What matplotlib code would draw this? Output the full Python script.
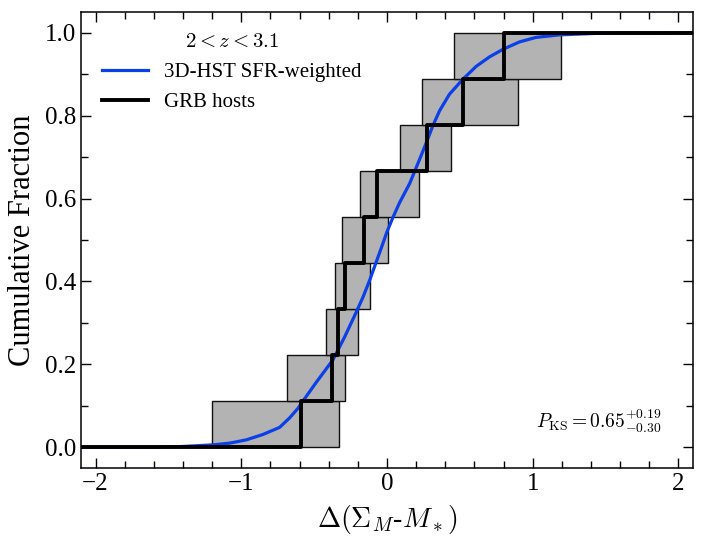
import matplotlib
matplotlib.use("Agg")
import matplotlib.pyplot as plt
from matplotlib.ticker import MultipleLocator

plt.rcParams['font.family'] = ['Liberation Serif', 'DejaVu Serif']
plt.rcParams['mathtext.fontset'] = 'cm'

# GRB host steps (9 hosts)
grb_x = [-0.593, -0.375, -0.337, -0.286, -0.158, -0.067, 0.272, 0.521, 0.802]
n_grb = len(grb_x)

# uncertainty boxes per cumulative level (left / right edges)
box_lo = [-1.203, -0.684, -0.421, -0.357, -0.307, -0.188, 0.086, 0.237, 0.462]
box_hi = [-0.330, -0.286, -0.202, -0.117, 0.006, 0.217, 0.436, 0.901, 1.195]

# 3D-HST SFR-weighted cumulative distribution
hst_x = [-2.1, -1.6, -1.4, -1.19, -1.08, -0.965, -0.851, -0.737, -0.668,
         -0.611, -0.588, -0.485, -0.371, -0.291, -0.211, -0.165, -0.119,
         -0.078, -0.039, -0.001, 0.040, 0.086, 0.155, 0.189, 0.224, 0.270,
         0.315, 0.361, 0.429, 0.521, 0.612, 0.704, 0.795, 0.909, 1.024,
         1.184, 1.46, 2.1]
hst_y = [0.0, 0.0, 0.002, 0.006, 0.010, 0.018, 0.031, 0.048, 0.071,
         0.094, 0.106, 0.157, 0.211, 0.266, 0.326, 0.362, 0.403,
         0.443, 0.481, 0.519, 0.554, 0.590, 0.636, 0.665, 0.695, 0.735,
         0.776, 0.812, 0.852, 0.888, 0.919, 0.942, 0.960, 0.978, 0.989,
         0.995, 0.999, 1.0]

fig = plt.figure(figsize=(7.06, 5.49), dpi=100)
ax = fig.add_axes([0.1147, 0.1475, 0.8669, 0.8305])

levels = [i / n_grb for i in range(n_grb)]
widths = [h - l for l, h in zip(box_lo, box_hi)]
ax.barh(levels, widths, left=box_lo, height=1 / n_grb, align='edge',
        color='#b3b3b3', edgecolor='#111111', linewidth=1.0, zorder=1)

ax.plot(hst_x, hst_y, color='#0b3fe8', lw=2.3, zorder=2,
        solid_joinstyle='round', label='3D-HST SFR-weighted')

step_x = [-2.1] + grb_x + [2.1]
step_y = [0.0] + [(i + 1) / n_grb for i in range(n_grb)] + [1.0]
ax.step(step_x, step_y, where='post', color='black', lw=2.8, zorder=3,
        label='GRB hosts')

ax.set_xlim(-2.1, 2.1)
ax.set_ylim(-0.05, 1.05)
ax.xaxis.set_major_locator(MultipleLocator(1))
ax.xaxis.set_minor_locator(MultipleLocator(0.2))
ax.yaxis.set_major_locator(MultipleLocator(0.2))
ax.yaxis.set_minor_locator(MultipleLocator(0.1))
ax.tick_params(which='both', direction='in', top=True, right=True, width=1.0,
               labelsize=18)
ax.tick_params(which='major', length=7)
ax.tick_params(which='minor', length=5)
for s in ax.spines.values():
    s.set_linewidth(1.1)

ax.set_xlabel(r'$\Delta(\Sigma_M$-$M_*)$', fontsize=20, labelpad=6)
ax.set_ylabel('Cumulative Fraction', fontsize=22, labelpad=6)

leg = ax.legend(loc='upper left', frameon=False, fontsize=15,
                title=r'$2 < z < 3.1$', title_fontsize=15,
                handlelength=2.2, borderaxespad=0.6)

ax.text(0.948, 0.103, r'$P_{\rm KS} = 0.65^{+0.19}_{-0.30}$',
        transform=ax.transAxes, ha='right', va='center', fontsize=14)

fig.savefig('out.png', dpi=100)
